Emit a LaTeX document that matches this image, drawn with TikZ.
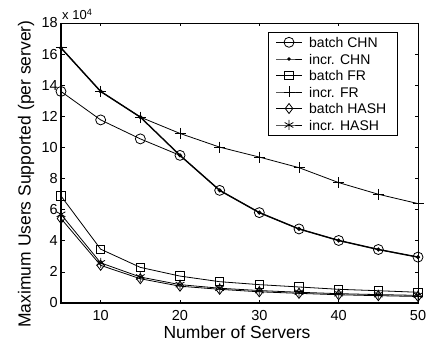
\documentclass[tikz,border=0pt]{standalone}
\usepackage{fontspec}
\setmainfont{Liberation Sans}
\usetikzlibrary{plotmarks}
\begin{document}
\begin{tikzpicture}[x=1pt,y=1pt,
  curve/.style={line width=0.8pt},
  thickcurve/.style={line width=1.4pt},
  ticklab/.style={font=\fontsize{14.5}{16}\selectfont,inner sep=0pt},
  axlab/.style={font=\fontsize{17.5}{20}\selectfont,inner sep=0pt},
  leglab/.style={font=\fontsize{14}{16}\selectfont,anchor=west,inner sep=0pt}]
\useasboundingbox (0,0) rectangle (436,348);
\coordinate (ll) at (61,45);
\coordinate (ur) at (418,325);

% axes box
\draw[line width=0.7pt] (ll) rectangle (ur);
\draw[line width=1.5pt] (61,325) -- (ll) -- (418,45);

\begin{scope}[shift={(21.333,45)},x=7.9333pt,y=15.5556pt]
% ticks and tick labels
\foreach \t in {10,20,...,50} {
  \draw[line width=0.6pt] (\t,0) -- ++(0pt,3.5pt);
  \draw[line width=0.6pt] (\t,18) -- ++(0pt,-3.5pt);
  \node[ticklab,anchor=north] (xt\t) at ([yshift=-7pt]\t,0) {\t};
}
\foreach \v in {0,2,...,18} {
  \draw[line width=0.6pt] (5,\v) -- ++(3.5pt,0pt);
  \draw[line width=0.6pt] (50,\v) -- ++(-3.5pt,0pt);
  \node[ticklab,anchor=east] (yt\v) at ([xshift=-3pt]5,\v) {\v};
}

% curves
\draw[curve,mark=square,mark size=4.2pt] plot coordinates {(5,6.88) (10,3.46) (15,2.29) (20,1.73) (25,1.37) (30,1.18) (35,1.03) (40,0.88) (45,0.79) (50,0.69)};
\draw[curve,mark=diamond,mark size=5pt] plot coordinates {(5,5.43) (10,2.42) (15,1.56) (20,1.08) (25,0.88) (30,0.72) (35,0.62) (40,0.53) (45,0.47) (50,0.42)};
\draw[curve,mark=asterisk,mark size=5pt] plot coordinates {(5,5.7) (10,2.58) (15,1.67) (20,1.18) (25,0.95) (30,0.8) (35,0.69) (40,0.6) (45,0.54) (50,0.49)};
\draw[curve,mark=+,mark size=5.5pt] plot coordinates {(5,16.4) (10,13.6) (15,11.95) (20,10.9) (25,10.02) (30,9.38) (35,8.7) (40,7.74) (45,6.99) (50,6.39)};
\draw[curve,mark=o,mark size=5pt] plot coordinates {(5,13.6) (10,11.77) (15,10.55) (20,9.49) (25,7.24) (30,5.81) (35,4.76) (40,4.02) (45,3.44) (50,2.95)};
\draw[thickcurve,mark=*,mark size=1.3pt] plot coordinates {(5,16.4) (10,13.6) (15,11.95) (20,9.49) (25,7.24) (30,5.81) (35,4.76) (40,4.02) (45,3.44) (50,2.95)};
\end{scope}

% axis labels
\node[ticklab,font=\fontsize{13}{15}\selectfont,anchor=base west] (mult) at (62,328) {x 10\textsuperscript{4}};
\node[axlab] (xlab) at (237,16) {Number of Servers};
\node[axlab,rotate=90] (ylab) at (26,174) {Maximum Users Supported (per server)};

% legend
\draw[line width=0.8pt,fill=white] (268,213) rectangle (397,316);
\draw[curve,mark=o,mark size=5pt,mark indices={2}] plot coordinates {(276,305.7) (289,305.7) (302,305.7)};
\node[leglab] (l1) at (309,305.7) {batch CHN};
\draw[curve,mark=*,mark size=1.3pt,mark indices={2}] plot coordinates {(276,289) (289,289) (302,289)};
\node[leglab] (l2) at (309,289) {incr. CHN};
\draw[curve,mark=square,mark size=4.2pt,mark indices={2}] plot coordinates {(276,272.5) (289,272.5) (302,272.5)};
\node[leglab] (l3) at (309,272.5) {batch FR};
\draw[curve,mark=+,mark size=5.5pt,mark indices={2}] plot coordinates {(276,256) (289,256) (302,256)};
\node[leglab] (l4) at (309,256) {incr. FR};
\draw[curve,mark=diamond,mark size=5pt,mark indices={2}] plot coordinates {(276,239.5) (289,239.5) (302,239.5)};
\node[leglab] (l5) at (309,239.5) {batch HASH};
\draw[curve,mark=asterisk,mark size=5pt,mark indices={2}] plot coordinates {(276,223) (289,223) (302,223)};
\node[leglab] (l6) at (309,223) {incr. HASH};
\end{tikzpicture}
\end{document}
